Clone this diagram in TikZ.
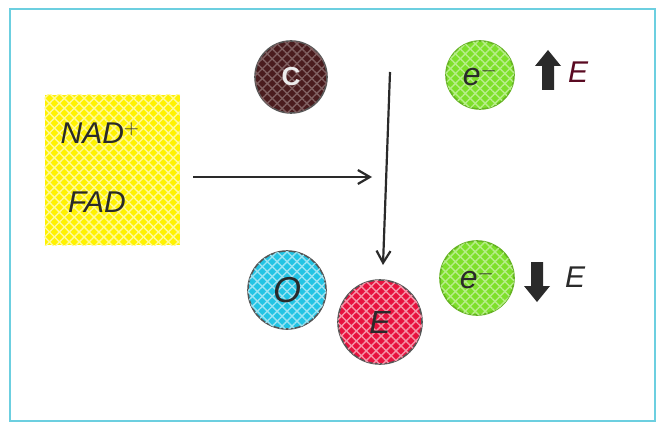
\documentclass[tikz,border=0pt]{standalone}
\usepackage{fontspec}
\setmainfont{Liberation Sans}
\usetikzlibrary{patterns.meta,arrows.meta}
\definecolor{frame}{HTML}{6CCFE0}
\definecolor{ylw}{HTML}{FFF200}
\definecolor{brn}{HTML}{4A1C1E}
\definecolor{grn}{HTML}{7EE02A}
\definecolor{cyn}{HTML}{22C4E4}
\definecolor{crm}{HTML}{E8123E}
\definecolor{ink}{HTML}{2A2A2A}
\definecolor{dred}{HTML}{5A0A22}
\tikzset{
  ball/.style={circle, draw=ink!80, line width=1.6pt, inner sep=0pt},
  hatch/.style={postaction={pattern={Lines[angle=45,distance=7pt,line width=1.4pt]}, pattern color=#1},
                postaction={pattern={Lines[angle=-45,distance=7pt,line width=1.4pt]}, pattern color=#1}},
  label/.style={font=\fontsize{30}{34}\selectfont\itshape, text=ink},
  link/.style={draw=ink, line width=2.2pt, -{Straight Barb[length=12pt,width=14pt,line width=2.2pt]}},
  blk/.style={fill=ink}
}
\begin{document}
\begin{tikzpicture}[x=1pt,y=-1pt]
\useasboundingbox (0,0) rectangle (663,430);
\fill[white] (0,0) rectangle (663,430);
\draw[frame, line width=1.8pt] (10,9) rectangle (655,421);
% yellow box
\node (box) [fill=ylw, hatch=ylw!40!white, minimum width=135pt, minimum height=150pt, inner sep=0pt] at (112,170) {};
\node (nad) [label] at (100,133) {NAD$^{+}$};
\node (fad) [label] at (97,202) {FAD};
% carbon
\node (c) [ball, fill=brn, hatch=brn!70!white, minimum size=72pt] at (291,77) {};
\node (ctext) [font=\fontsize{26}{30}\selectfont\bfseries, text=white!85!gray] at (c) {C};
% arrows
\coordinate (hstart) at (193,177);
\coordinate (hend) at (372,177);
\coordinate (vtop) at (390,72);
\coordinate (vbot) at (383,265);
\draw[link] (hstart) -- (hend);
\draw[link] (vtop) -- (vbot);
% top electron
\node (e1) [ball, draw=grn!80!black, fill=grn, hatch=grn!55!white, minimum size=68pt] at (480,75) {};
\node (e1t) [label, font=\fontsize{32}{34}\selectfont\itshape] at (e1) {e$^{-}$};
\coordinate (up) at (548,70);
\fill[blk] (up) ++(0,-20) -- ++(13,16) -- ++(-7,0) -- ++(0,24) -- ++(-12,0) -- ++(0,-24) -- ++(-7,0) -- cycle;
\node (E1) [font=\fontsize{30}{34}\selectfont\itshape, text=dred] at (578,72) {E};
% bottom
\node (o) [ball, fill=cyn, hatch=cyn!45!white, minimum size=78pt] at (287,290) {};
\node (ot) [label, font=\fontsize{36}{40}\selectfont\itshape] at (o) {O};
\node (en) [ball, fill=crm, hatch=crm!45!white, minimum size=84pt] at (380,322) {};
\node (ent) [label, font=\fontsize{32}{36}\selectfont\itshape] at (en) {E};
\node (e2) [ball, draw=grn!80!black, fill=grn, hatch=grn!55!white, minimum size=74pt] at (477,278) {};
\node (e2t) [label, font=\fontsize{32}{34}\selectfont\itshape] at (e2) {e$^{-}$};
\coordinate (down) at (537,282);
\fill[blk] (down) ++(0,20) -- ++(13,-16) -- ++(-7,0) -- ++(0,-24) -- ++(-12,0) -- ++(0,24) -- ++(-7,0) -- cycle;
\node (E2) [font=\fontsize{30}{34}\selectfont\itshape, text=ink] at (575,277) {E};
\end{tikzpicture}
\end{document}
